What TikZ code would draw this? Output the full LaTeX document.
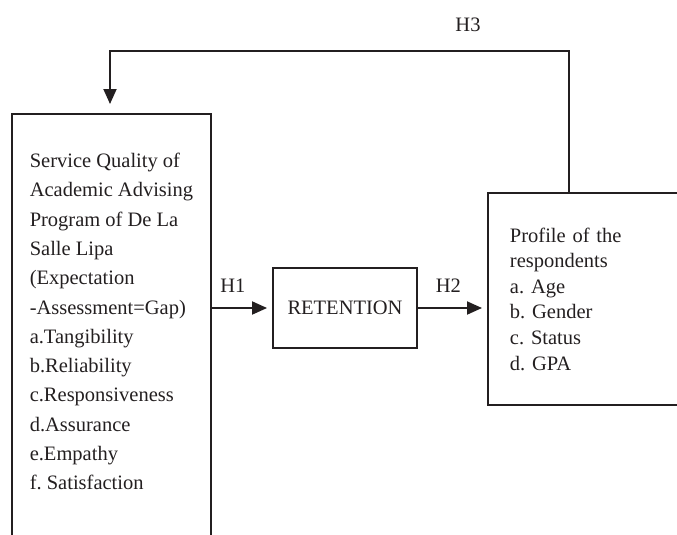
\documentclass[tikz,border=0pt]{standalone}
\usepackage{fontspec}
\setmainfont{Liberation Serif}
\usetikzlibrary{arrows.meta}
\definecolor{ink}{HTML}{231F20}
\frenchspacing

\begin{document}
\begin{tikzpicture}
[x=1pt,y=1pt,
block/.style ={rectangle, draw=ink, line width=1.9pt, text=ink,
align=left, inner sep=0pt},
bigblock/.style ={block, anchor=north west,
font=\fontsize{20.5}{29.3}\selectfont,
minimum width=199pt, minimum height=425pt},
sideblock/.style ={block, anchor=north west,
font=\fontsize{20.5}{25.6}\selectfont,
text width=170pt, inner xsep=22pt, minimum height=212pt},
midblock/.style ={block, align=center,
font=\fontsize{20.5}{24}\selectfont,
minimum width=144pt, minimum height=80pt},
line/.style ={draw=ink, line width=1.9pt,
-{Triangle[length=15pt,width=13pt]}, shorten >=5pt},
hyp/.style ={text=ink, inner sep=0pt, font=\fontsize{20.5}{24}\selectfont}]
\useasboundingbox (0,0) rectangle (677,-535);
\clip (0,0) rectangle (677,-535);
% the three boxes (the big one runs off the bottom, so its text sits a bit high)
\node [bigblock] (svq) at (11,-113)
{Service Quality of\\ Academic Advising\\ Program of De La\\ Salle Lipa\\
(Expectation\\ -Assessment=Gap)\\ a.Tangibility\\ b.Reliability\\
c.Responsiveness\\ d.Assurance\\ e.Empathy\\ f. Satisfaction\rule[-10pt]{0pt}{0pt}};
\node [midblock] (ret) at (345,-308) {RETENTION};
\node [sideblock] (prof) at (487,-192)
{Profile of the\\ respondents\\ a. Age\\ b. Gender\\ c. Status\\ d. GPA};
% hypotheses
\path [line] (svq.east |- ret.west) -- node[hyp, pos=0.35, above=15pt] {H1} (ret.west);
\path [line] (ret.east) -- node[hyp, pos=0.44, above=15pt] {H2} (prof.west |- ret.east);
\path [line, shorten >=9pt] ([xshift=82pt]prof.north west) -- ++(0,141)
-| node[hyp, pos=0.11, above=18pt] {H3} ([xshift=99pt]svq.north west);
\end{tikzpicture}
\end{document}
